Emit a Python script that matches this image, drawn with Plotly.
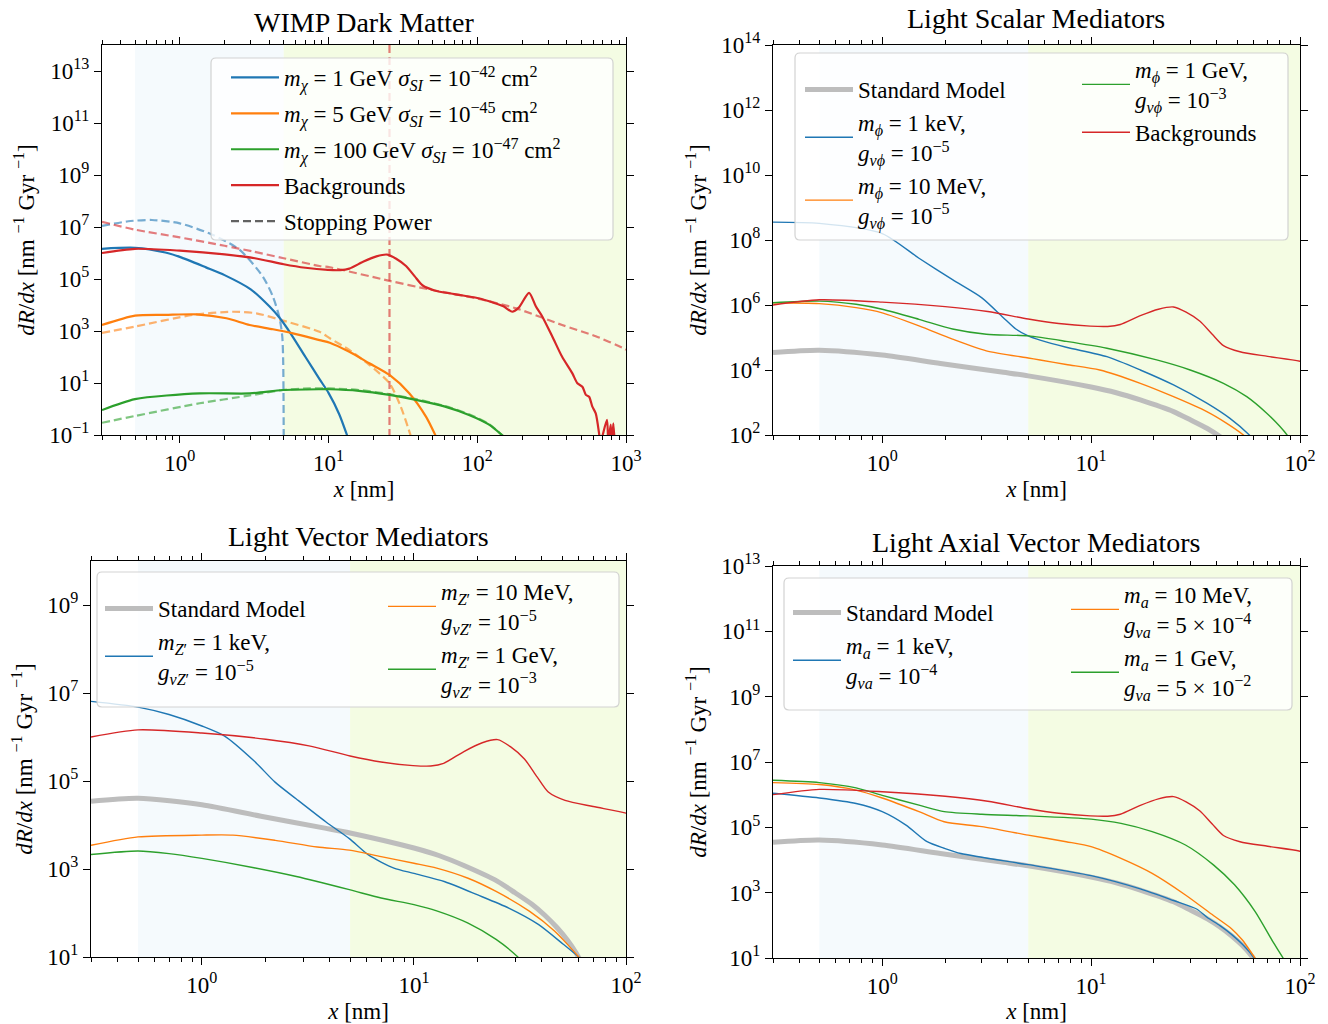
import math
import plotly.graph_objects as go

# ---------------- data ----------------
# shared background rate
bg_x = [0.3, 0.5, 1.0, 2.0, 3.2, 5.0, 7.0, 9.9, 12.0, 13.8, 17.2, 21.0, 24.8, 28.5, 33.2, 38.0, 43.0,
        51.6, 70.0, 100, 130, 150, 172, 190, 223, 248, 274, 320, 372, 436, 471, 509, 537, 565, 594,
        626, 659, 672, 745, 760, 789, 805, 822, 840]
bg_y = [1.0e6, 1.45e6, 1.23e6, 8.9e5, 6.3e5, 3.7e5, 2.7e5, 2.24e5, 2.19e5, 2.51e5, 4.68e5, 7.41e5,
        8.71e5, 6.03e5, 3.16e5, 1.26e5, 5.62e4, 3.63e4, 2.63e4, 1.86e4, 1.2e4, 8.9e3, 5.5e3, 7.9e3,
        2.95e4, 8.7e3, 3.55e3, 603, 102, 23.4, 9.8, 7.2, 3.5, 2.95, 1.23, 0.68, 0.117, 0.05, 0.38,
        0.05, 0.25, 0.05, 0.28, 0.05]

# background stopping-power curve (WIMP panel)
bgsp_x = [0.3, 0.5, 1.0, 2.0, 3.15, 5.0, 8.7, 10.2, 25.7, 47.5, 98, 183, 372, 626, 965, 1000]
bgsp_y = [1.58e7, 7.9e6, 3.98e6, 1.9e6, 1.12e6, 6.31e5, 3.16e5, 2.82e5, 8.5e4, 3.98e4, 1.82e4,
          7.4e3, 1.7e3, 631, 214, 191]
wimp_marker_x = 25.7

# WIMP signals
w1_x = [0.3, 0.5, 0.8, 1.0, 1.5, 2.0, 3.0, 4.0, 4.7, 5.5, 7.0, 8.7, 10, 11.8, 13.5]
w1_y = [1.45e6, 1.58e6, 1.05e6, 7.1e5, 2.8e5, 1.41e5, 4.0e4, 8.9e3, 3.16e3, 891, 100, 14.1, 4.17,
        0.63, 0.079]
w1sp_x = [0.3, 0.45, 0.65, 1.0, 1.63, 2.53, 3.62, 4.23, 4.69, 4.89, 4.96, 5.0]
w1sp_y = [1.1e7, 1.66e7, 1.86e7, 1.38e7, 5.25e6, 1.32e6, 1.23e5, 2.09e4, 3.09e3, 603, 57.5, 0.032]

w5_x = [0.3, 0.5, 0.8, 1.29, 2.06, 2.95, 4.23, 5.77, 8.7, 10.2, 13.8, 18.8, 25.7, 35, 45.3, 52.7]
w5_y = [1.7e3, 3.89e3, 4.17e3, 4.37e3, 3.09e3, 1.7e3, 1.17e3, 813, 447, 355, 158, 57.5, 20.4,
        3.98, 0.5, 0.089]
w5sp_x = [0.3, 0.5, 1.23, 2.28, 3.27, 4.69, 8.7, 10.2, 13.8, 18.8, 25.7, 30.6, 35.8]
w5sp_y = [851, 1.48e3, 4.17e3, 5.5e3, 4.79e3, 2.75e3, 933, 525, 186, 50, 9.8, 1.23, 0.089]

w100_x = [0.3, 0.5, 1.36, 2.95, 4.94, 8.7, 10.2, 16, 25.7, 38.7, 60, 88, 120, 150]
w100_y = [0.91, 2.4, 3.98, 3.98, 5.37, 5.75, 5.75, 5.0, 3.47, 2.24, 1.26, 0.59, 0.25, 0.089]
w100sp_x = [0.3, 0.5, 1.36, 2.95, 4.94, 7.5, 10.2, 16, 25.7, 38.7, 60, 88, 120, 150]
w100sp_y = [0.295, 0.54, 1.66, 3.31, 5.37, 6.17, 6.17, 5.37, 3.72, 2.4, 1.32, 0.63, 0.26, 0.089]

# Standard Model neutrino rate (shared)
sm_x = [0.3, 0.5, 1.0, 1.9, 3.8, 5.0, 10, 13.2, 17.2, 24.8, 30, 36, 41.4, 47, 53, 58, 63, 68]
sm_y = [3.47e4, 4.07e4, 2.88e4, 1.58e4, 8.5e3, 6.6e3, 3.0e3, 2.0e3, 1.2e3, 525, 288, 158, 89,
        48, 24, 12.6, 6.0, 2.6]

# Light scalar mediators
s1k_x = [0.3, 0.5, 1.0, 1.5, 2.17, 3.0, 3.8, 4.36, 5.0, 5.7, 7.6, 11.9, 17.2, 24.8, 35.8, 46.2, 57.2, 65]
s1k_y = [3.55e8, 3.24e8, 1.58e8, 2.75e7, 6.0e6, 1.66e6, 4.07e5, 1.82e5, 1.12e5, 8.3e4, 5.0e4,
         2.57e4, 1.0e4, 3.47e3, 955, 324, 100, 40]
s10m_x = [0.3, 0.5, 0.75, 1.0, 1.5, 2.17, 3.15, 5.0, 5.7, 7.6, 11.0, 17.2, 24.8, 35.8, 44.6, 53.6, 62]
s10m_y = [1.17e6, 1.1e6, 8.3e5, 5.75e5, 2.29e5, 8.9e4, 3.89e4, 2.34e4, 2.04e4, 1.48e4, 1.0e4,
          3.89e3, 1.51e3, 525, 229, 100, 40]
s1g_x = [0.3, 0.5, 0.75, 1.0, 1.5, 2.17, 3.15, 5.0, 7.6, 11.9, 20.6, 29.8, 43, 55.6, 69.3, 80.2, 86.7, 95]
s1g_y = [1.17e6, 1.32e6, 1.05e6, 7.4e5, 3.63e5, 1.82e5, 1.26e5, 1.12e5, 7.6e4, 4.68e4, 2.04e4,
         1.0e4, 3.89e3, 1.51e3, 468, 182, 100, 40]

# Light vector mediators
v1k_x = [0.3, 0.5, 0.7, 1.0, 1.28, 1.76, 2.22, 2.79, 3.85, 4.96, 6.1, 8.05, 10, 14, 20, 28, 38.6,
         50.6, 59.8, 66]
v1k_y = [6.46e6, 4.79e6, 3.24e6, 1.78e6, 1.05e6, 2.88e5, 9.3e4, 3.89e4, 1.17e4, 4.9e3, 2.09e3,
         1.05e3, 794, 513, 257, 129, 55, 19.5, 10, 6.3]
v10m_x = [0.3, 0.5, 1.0, 1.4, 2.22, 3.5, 4.96, 7.0, 10, 12.8, 18, 24.4, 35, 46, 59.8, 66]
v10m_y = [3.47e3, 5.37e3, 5.89e3, 5.89e3, 4.47e3, 3.16e3, 2.69e3, 1.91e3, 1.35e3, 1.05e3, 617,
          309, 110, 38.9, 10, 5.0]
v1g_x = [0.3, 0.5, 0.7, 1.0, 1.76, 2.79, 4.96, 7.0, 10, 12.8, 18, 24.4, 30.9, 35]
v1g_y = [2.14e3, 2.57e3, 2.24e3, 1.74e3, 1.07e3, 676, 339, 219, 155, 112, 58.9, 25.1, 10, 5.0]

# Light axial vector mediators
a1k_x = [0.3, 0.5, 0.75, 1.0, 1.3, 1.64, 1.98, 2.38, 5.0, 10, 17.2, 24.8, 32, 36, 41.4, 47, 53, 58, 63]
a1k_y = [1.1e6, 7.9e5, 5.37e5, 3.02e5, 1.17e5, 3.63e4, 2.29e4, 1.58e4, 7.2e3, 3.31e3, 1.3e3,
         575, 316, 174, 98, 53, 26.3, 13.8, 6.6]
a10m_x = [0.3, 0.5, 0.75, 1.0, 1.5, 1.98, 3.0, 5.0, 7.6, 10, 13.9, 19.6, 28.3, 38.5, 47, 53, 58, 63]
a10m_y = [2.34e6, 2.04e6, 1.38e6, 7.9e5, 3.02e5, 1.48e5, 1.05e5, 5.75e4, 3.63e4, 2.57e4, 1.12e4,
          3.89e3, 851, 200, 79, 35.5, 15.8, 7.1]
a1g_x = [0.3, 0.5, 0.75, 1.0, 1.5, 1.98, 3.0, 5.0, 10, 13.9, 19.6, 28.3, 38.5, 48.6, 61, 74, 83, 90]
a1g_y = [2.75e6, 2.34e6, 1.62e6, 9.5e5, 4.79e5, 3.02e5, 2.51e5, 2.24e5, 1.78e5, 1.32e5, 7.4e4,
         2.88e4, 7.1e3, 1.74e3, 263, 32.4, 10, 4.0]

# region boundaries [nm]
region_x = [0.5, 5.0]

titles = ["WIMP Dark Matter", "Light Scalar Mediators", "Light Vector Mediators",
          "Light Axial Vector Mediators"]

# ---------------- styling ----------------
FONT = "Liberation Serif"
FS = 23
BLUE, ORANGE, GREEN, RED = "#1f77b4", "#ff7f0e", "#2ca02c", "#d62728"
GREY = "#bdbdbd"


def faded(hexc, a=0.6):
    h = hexc.lstrip("#")
    return "rgba(%d,%d,%d,%s)" % (int(h[0:2], 16), int(h[2:4], 16), int(h[4:6], 16), a)


fig = go.Figure()
_grp = [0]


def add(x, y, sub, color, width, name=None, legend=None, dash=None):
    _grp[0] += 1
    fig.add_trace(go.Scatter(
        x=x, y=y, mode="lines", name=name,
        line=dict(color=color, width=width, dash=dash, shape="spline", smoothing=0.7),
        xaxis="x" if sub == 1 else "x%d" % sub,
        yaxis="y" if sub == 1 else "y%d" % sub,
        showlegend=bool(name), legend=legend, legendgroup="g%d" % _grp[0],
        hoverinfo="skip"))


# Panel 1: WIMP
LW1 = 2.2
DASH = "8px,4px"
add(w1sp_x, w1sp_y, 1, faded(BLUE), LW1, dash=DASH)
add(w5sp_x, w5sp_y, 1, faded(ORANGE), LW1, dash=DASH)
add(w100sp_x, w100sp_y, 1, faded(GREEN), LW1, dash=DASH)
add(bgsp_x, bgsp_y, 1, faded(RED), LW1, dash=DASH)
add([wimp_marker_x, wimp_marker_x], [1e-2, 1e15], 1, faded(RED), LW1, dash=DASH)
add(w1_x, w1_y, 1, BLUE, LW1, "<i>m</i><sub><i>χ</i></sub> = 1 GeV <i>σ</i><sub><i>SI</i></sub> = 10<sup>−42</sup> cm<sup>2</sup>", "legend")
add(w5_x, w5_y, 1, ORANGE, LW1, "<i>m</i><sub><i>χ</i></sub> = 5 GeV <i>σ</i><sub><i>SI</i></sub> = 10<sup>−45</sup> cm<sup>2</sup>", "legend")
add(w100_x, w100_y, 1, GREEN, LW1, "<i>m</i><sub><i>χ</i></sub> = 100 GeV <i>σ</i><sub><i>SI</i></sub> = 10<sup>−47</sup> cm<sup>2</sup>", "legend")
add(bg_x, bg_y, 1, RED, LW1, "Backgrounds", "legend")
fig.add_trace(go.Scatter(x=[None], y=[None], mode="lines", name="Stopping Power",
                         line=dict(color="rgba(70,70,70,0.85)", width=LW1, dash=DASH),
                         legend="legend", legendgroup="sp", xaxis="x", yaxis="y"))

LW = 1.4
SMW = 5
# Panel 2: scalar
add(sm_x, sm_y, 2, GREY, SMW, "Standard Model", "legend2")
add(s1k_x, s1k_y, 2, BLUE, LW, "<i>m</i><sub><i>ϕ</i></sub> = 1 keV,<br><i>g</i><sub><i>νϕ</i></sub> = 10<sup>−5</sup>", "legend2")
add(s10m_x, s10m_y, 2, ORANGE, LW, "<i>m</i><sub><i>ϕ</i></sub> = 10 MeV,<br><i>g</i><sub><i>νϕ</i></sub> = 10<sup>−5</sup>", "legend2")
add(s1g_x, s1g_y, 2, GREEN, LW, "<i>m</i><sub><i>ϕ</i></sub> = 1 GeV,<br><i>g</i><sub><i>νϕ</i></sub> = 10<sup>−3</sup>", "legend3")
add(bg_x, bg_y, 2, RED, LW, "Backgrounds", "legend3")

# Panel 3: vector
add(sm_x, sm_y, 3, GREY, SMW, "Standard Model", "legend4")
add(v1k_x, v1k_y, 3, BLUE, LW, "<i>m</i><sub><i>Z</i>′</sub> = 1 keV,<br><i>g</i><sub><i>νZ</i>′</sub> = 10<sup>−5</sup>", "legend4")
add(v10m_x, v10m_y, 3, ORANGE, LW, "<i>m</i><sub><i>Z</i>′</sub> = 10 MeV,<br><i>g</i><sub><i>νZ</i>′</sub> = 10<sup>−5</sup>", "legend5")
add(v1g_x, v1g_y, 3, GREEN, LW, "<i>m</i><sub><i>Z</i>′</sub> = 1 GeV,<br><i>g</i><sub><i>νZ</i>′</sub> = 10<sup>−3</sup>", "legend5")
add(bg_x, bg_y, 3, RED, LW)

# Panel 4: axial vector
add(sm_x, sm_y, 4, GREY, SMW, "Standard Model", "legend6")
add(a1k_x, a1k_y, 4, BLUE, LW, "<i>m</i><sub><i>a</i></sub> = 1 keV,<br><i>g</i><sub><i>νa</i></sub> = 10<sup>−4</sup>", "legend6")
add(a10m_x, a10m_y, 4, ORANGE, LW, "<i>m</i><sub><i>a</i></sub> = 10 MeV,<br><i>g</i><sub><i>νa</i></sub> = 5 × 10<sup>−4</sup>", "legend7")
add(a1g_x, a1g_y, 4, GREEN, LW, "<i>m</i><sub><i>a</i></sub> = 1 GeV,<br><i>g</i><sub><i>νa</i></sub> = 5 × 10<sup>−2</sup>", "legend7")
add(bg_x, bg_y, 4, RED, LW)

# ---------------- layout ----------------
W, H = 1328, 1024


def px_x(p):
    return p / W


def px_y(p):
    return 1 - p / H


# plot boxes in pixels: (left, right, top, bottom)
boxes = [(102, 626, 45, 435), (773, 1300, 45, 435), (91, 626, 561, 957), (773, 1300, 566, 958)]
xr = [(0.3, 1000), (0.3, 100), (0.3, 100), (0.3, 100)]
yexp = [(-1, 14), (2, 14), (1, 10), (1, 13)]
yticks_exp = [range(-1, 14, 2), range(2, 15, 2), range(1, 10, 2), range(1, 14, 2)]

layout = dict(width=W, height=H, margin=dict(l=0, r=0, t=0, b=0),
              paper_bgcolor="white", plot_bgcolor="white",
              font=dict(family=FONT, size=FS, color="black"))


def sup(e):
    return "10<sup>%s</sup>" % (str(e).replace("-", "−"))


for i in range(4):
    l, r, t, b = boxes[i]
    k = "" if i == 0 else str(i + 1)
    lo, hi = xr[i]
    xmaj = [10 ** e for e in range(0, 4) if lo <= 10 ** e <= hi]
    xmin = [m * 10 ** e for e in range(-1, 3) for m in range(2, 10) if lo <= m * 10 ** e <= hi]
    ymaj = [10.0 ** e for e in yticks_exp[i]]
    layout["xaxis" + k] = dict(
        type="log", domain=[px_x(l), px_x(r)], range=[math.log10(lo), math.log10(hi)],
        anchor="y" + k, showgrid=False, zeroline=False, showline=True, linecolor="black",
        linewidth=1.2, mirror="allticks", ticks="outside", ticklen=7, tickwidth=1.1,
        tickcolor="black", tickvals=xmaj, ticktext=[sup(int(round(math.log10(v)))) for v in xmaj],
        tickfont=dict(size=FS), automargin=False,
        minor=dict(tickvals=xmin, ticks="outside", ticklen=4, tickwidth=0.9, tickcolor="black",
                   showgrid=False),
        title=dict(text="<i>x</i> [nm]", font=dict(size=FS), standoff=6))
    layout["yaxis" + k] = dict(
        type="log", domain=[px_y(b), px_y(t)], range=list(yexp[i]), anchor="x" + k,
        showgrid=False, zeroline=False, showline=True, linecolor="black", linewidth=1.2,
        mirror="allticks", ticks="outside", ticklen=7, tickwidth=1.1, tickcolor="black",
        tickvals=ymaj, ticktext=[sup(e) for e in yticks_exp[i]], tickfont=dict(size=FS),
        automargin=False,
        title=dict(text="<i>dR</i>/<i>dx</i> [nm <sup>−1</sup> Gyr <sup>−1</sup>]",
                   font=dict(size=FS), standoff=8))

shapes = []
for i in range(4):
    k = "" if i == 0 else str(i + 1)
    hi = xr[i][1]
    shapes.append(dict(type="rect", xref="x" + k, yref="y%s domain" % k, x0=region_x[0],
                       x1=region_x[1], y0=0, y1=1, fillcolor="#f5fafd", line=dict(width=0),
                       layer="below"))
    shapes.append(dict(type="rect", xref="x" + k, yref="y%s domain" % k, x0=region_x[1],
                       x1=hi, y0=0, y1=1, fillcolor="#f4fce3", line=dict(width=0),
                       layer="below"))


def rounded_frame(l, r, t, b, rad=5):
    x0, x1 = px_x(l), px_x(r)
    yt, yb = px_y(t), px_y(b)
    rx, ry = rad / W, rad / H
    return ("M %f,%f L %f,%f Q %f,%f %f,%f L %f,%f Q %f,%f %f,%f L %f,%f Q %f,%f %f,%f "
            "L %f,%f Q %f,%f %f,%f Z" % (
                x0 + rx, yt, x1 - rx, yt, x1, yt, x1, yt - ry,
                x1, yb + ry, x1, yb, x1 - rx, yb,
                x0 + rx, yb, x0, yb, x0, yb + ry,
                x0, yt - ry, x0, yt, x0 + rx, yt))


# legend frames (pixel boxes)
frames = [(211, 613, 58, 240), (795, 1288, 53, 240), (97, 619, 572, 707), (784, 1292, 578, 710)]
for (l, r, t, b) in frames:
    shapes.append(dict(type="path", xref="paper", yref="paper", path=rounded_frame(l, r, t, b),
                       fillcolor="rgba(255,255,255,0.8)",
                       line=dict(color="rgba(205,205,205,0.9)", width=1.2), layer="above"))
layout["shapes"] = shapes

# name: (left px, top px, gap between entries)
legend_pos = {"legend": (226, 56, 3), "legend2": (800, 68, 0), "legend3": (1077, 48, 0),
              "legend4": (100, 587, 0), "legend5": (383, 570, 0), "legend6": (788, 591, 0),
              "legend7": (1066, 573, 0)}
for name, (lx, ly, gap) in legend_pos.items():
    layout[name] = dict(x=px_x(lx), y=px_y(ly), xref="paper", yref="paper", xanchor="left",
                        yanchor="top", bgcolor="rgba(0,0,0,0)", borderwidth=0,
                        font=dict(family=FONT, size=FS), itemwidth=48, tracegroupgap=gap,
                        valign="middle", itemclick=False, itemdoubleclick=False)

ann = []
title_pos = [(364, 22), (1036, 18), (358, 536), (1036, 542)]
for txt, (cx, cy) in zip(titles, title_pos):
    ann.append(dict(text=txt, x=px_x(cx), y=px_y(cy), xref="paper", yref="paper",
                    showarrow=False, xanchor="center", yanchor="middle",
                    font=dict(family=FONT, size=28)))
layout["annotations"] = ann

fig.update_layout(**layout)
fig.write_html("out.html")
